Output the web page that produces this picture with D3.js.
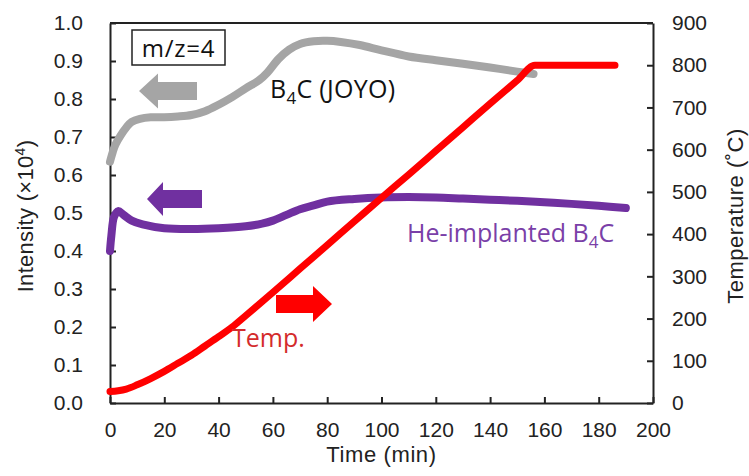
<!DOCTYPE html>
<html>
<head>
<meta charset="utf-8">
<script src="https://cdn.jsdelivr.net/npm/d3@7"></script>
<style>
  body { margin: 0; background: #fff; }
  svg { display: block; }
  .tick text { font-family: "Liberation Sans", Arial, sans-serif; font-size: 21px; fill: #222; }
  .lbl { font-family: "Open Sans", sans-serif; }
  .title { font-family: "Liberation Sans", Arial, sans-serif; font-size: 22px; fill: #222; }
</style>
</head>
<body>
<div id="chart"></div>
<script>
// Time axis (min) for each series
const grayTime = [0, 1, 2, 4, 6, 8, 11, 15, 20, 25, 30, 35, 40, 45, 50, 55, 58, 62, 66, 70, 75, 80, 85, 92, 100, 110, 120, 130, 140, 150, 156];
const grayVal  = [0.635, 0.66, 0.68, 0.705, 0.725, 0.74, 0.748, 0.752, 0.752, 0.754, 0.758, 0.768, 0.785, 0.805, 0.828, 0.85, 0.87, 0.905, 0.93, 0.945, 0.952, 0.953, 0.95, 0.942, 0.928, 0.912, 0.902, 0.893, 0.883, 0.872, 0.866];

const heTime = [0, 0.5, 1.5, 3, 5, 8, 12, 20, 30, 40, 50, 56, 60, 65, 70, 75, 80, 90, 100, 110, 120, 130, 140, 150, 160, 170, 180, 190];
const heVal  = [0.40, 0.44, 0.49, 0.505, 0.495, 0.48, 0.47, 0.46, 0.458, 0.46, 0.465, 0.472, 0.48, 0.495, 0.51, 0.52, 0.53, 0.537, 0.541, 0.542, 0.541, 0.538, 0.535, 0.532, 0.528, 0.524, 0.519, 0.513];

const tempTime = [0, 3, 6, 10, 15, 20, 25, 30, 35, 40, 45, 50, 60, 70, 80, 90, 100, 110, 120, 130, 140, 150, 156.5, 170, 186];
const tempVal  = [27, 29, 33, 43, 58, 75, 94, 113, 135, 157, 180, 207, 262, 318, 374, 430, 486, 541, 597, 653, 709, 764, 800, 800, 800];

const xTicks = [0, 20, 40, 60, 80, 100, 120, 140, 160, 180, 200];
const yLeftTicks = [0, 0.1, 0.2, 0.3, 0.4, 0.5, 0.6, 0.7, 0.8, 0.9, 1.0];
const yRightTicks = [0, 100, 200, 300, 400, 500, 600, 700, 800, 900];

const width = 749, height = 476;
const margin = { left: 110, right: 96, top: 23, bottom: 73 };

const svg = d3.select("#chart").append("svg")
    .attr("width", width)
    .attr("height", height);

const x = d3.scaleLinear().domain([0, 200]).range([margin.left, width - margin.right]);
const yL = d3.scaleLinear().domain([0, 1]).range([height - margin.bottom, margin.top]);
const yR = d3.scaleLinear().domain([0, 900]).range([height - margin.bottom, margin.top]);

// frame top line
svg.append("line")
    .attr("x1", x(0)).attr("x2", x(200))
    .attr("y1", yL(1)).attr("y2", yL(1))
    .attr("stroke", "#222").attr("stroke-width", 2);

// Axes
const axL = svg.append("g")
    .attr("transform", `translate(${x(0)},0)`)
    .call(d3.axisLeft(yL).tickValues(yLeftTicks).tickFormat(d3.format(".1f")).tickSizeInner(-6).tickSizeOuter(0).tickPadding(27));
const axR = svg.append("g")
    .attr("transform", `translate(${x(200)},0)`)
    .call(d3.axisRight(yR).tickValues(yRightTicks).tickFormat(d3.format("d")).tickSizeInner(-6).tickSizeOuter(0).tickPadding(19));
const axB = svg.append("g")
    .attr("transform", `translate(0,${yL(0)})`)
    .call(d3.axisBottom(x).tickValues(xTicks).tickFormat(d3.format("d")).tickSizeInner(-6).tickSizeOuter(0).tickPadding(19));

[axL, axR, axB].forEach(a => {
    a.select(".domain").attr("stroke", "#222").attr("stroke-width", 2);
    a.selectAll(".tick line").attr("stroke", "#222").attr("stroke-width", 2);
    a.attr("font-family", null).attr("font-size", null);
});

// Lines
const lineL = (t, v) => d3.line()
    .x((d, i) => x(t[i]))
    .y(d => yL(d))
    .curve(d3.curveCatmullRom.alpha(0.5))(v);

const lineR = d3.line()
    .x((d, i) => x(tempTime[i]))
    .y(d => yR(d))
    .curve(d3.curveMonotoneX);

svg.append("path")
    .attr("d", lineL(grayTime, grayVal))
    .attr("fill", "none").attr("stroke", "#a5a5a5")
    .attr("stroke-width", 8).attr("stroke-linecap", "round").attr("stroke-linejoin", "round");

svg.append("path")
    .attr("d", lineL(heTime, heVal))
    .attr("fill", "none").attr("stroke", "#7030a0")
    .attr("stroke-width", 8).attr("stroke-linecap", "round").attr("stroke-linejoin", "round");

svg.append("path")
    .attr("d", lineR(tempVal))
    .attr("fill", "none").attr("stroke", "#ff0000")
    .attr("stroke-width", 7).attr("stroke-linecap", "round").attr("stroke-linejoin", "round");

// Arrows (block arrows)
function arrow(tipX, baseX, endX, cy, bodyH, headH, color) {
    const pts = [
        [tipX, cy],
        [baseX, cy - headH],
        [baseX, cy - bodyH],
        [endX, cy - bodyH],
        [endX, cy + bodyH],
        [baseX, cy + bodyH],
        [baseX, cy + headH]
    ];
    svg.append("polygon")
        .attr("points", pts.map(p => p.join(",")).join(" "))
        .attr("fill", color);
}
arrow(139, 158, 197, 91, 9, 17.5, "#a5a5a5");
arrow(147, 163, 202, 199, 9, 17, "#7030a0");
arrow(332, 313, 276, 304, 9, 18, "#ff0000");

// m/z box
svg.append("rect")
    .attr("x", 132).attr("y", 30).attr("width", 93).attr("height", 35)
    .attr("fill", "#fff").attr("stroke", "#222").attr("stroke-width", 1.5);
svg.append("text").attr("class", "lbl")
    .attr("x", 178.5).attr("y", 57).attr("text-anchor", "middle")
    .attr("font-size", 24).attr("letter-spacing", 0.8).attr("fill", "#111")
    .text("m/z=4");

// In-plot labels
const b4c = svg.append("text").attr("class", "lbl")
    .attr("x", 270).attr("y", 98).attr("font-size", 25).attr("letter-spacing", 0.3).attr("fill", "#111");
b4c.append("tspan").text("B");
b4c.append("tspan").attr("font-size", 17).attr("dy", 6).text("4");
b4c.append("tspan").attr("dy", -6).text("C (JOYO)");

const he = svg.append("text").attr("class", "lbl")
    .attr("x", 407).attr("y", 242).attr("font-size", 25).attr("fill", "#7a3fa8");
he.append("tspan").text("He-implanted B");
he.append("tspan").attr("font-size", 17).attr("dy", 6).text("4");
he.append("tspan").attr("dy", -6).text("C");

svg.append("text").attr("class", "lbl")
    .attr("x", 232).attr("y", 347).attr("font-size", 25).attr("fill", "#d42b2b")
    .text("Temp.");

// Axis titles
svg.append("text").attr("class", "title")
    .attr("x", (x(0) + x(200)) / 2).attr("y", 462)
    .attr("text-anchor", "middle").attr("letter-spacing", 0.6)
    .text("Time (min)");

const tl = svg.append("text").attr("class", "title")
    .attr("transform", "translate(33,216) rotate(-90)")
    .attr("text-anchor", "middle").attr("letter-spacing", 0.3);
tl.append("tspan").text("Intensity (×10");
tl.append("tspan").attr("font-size", 14).attr("dy", -8).text("4");
tl.append("tspan").attr("dy", 8).text(")");

svg.append("text").attr("class", "title")
    .attr("transform", "translate(743,216) rotate(-90)")
    .attr("text-anchor", "middle").attr("letter-spacing", 0.5)
    .text("Temperature (˚C)");
</script>
</body>
</html>
